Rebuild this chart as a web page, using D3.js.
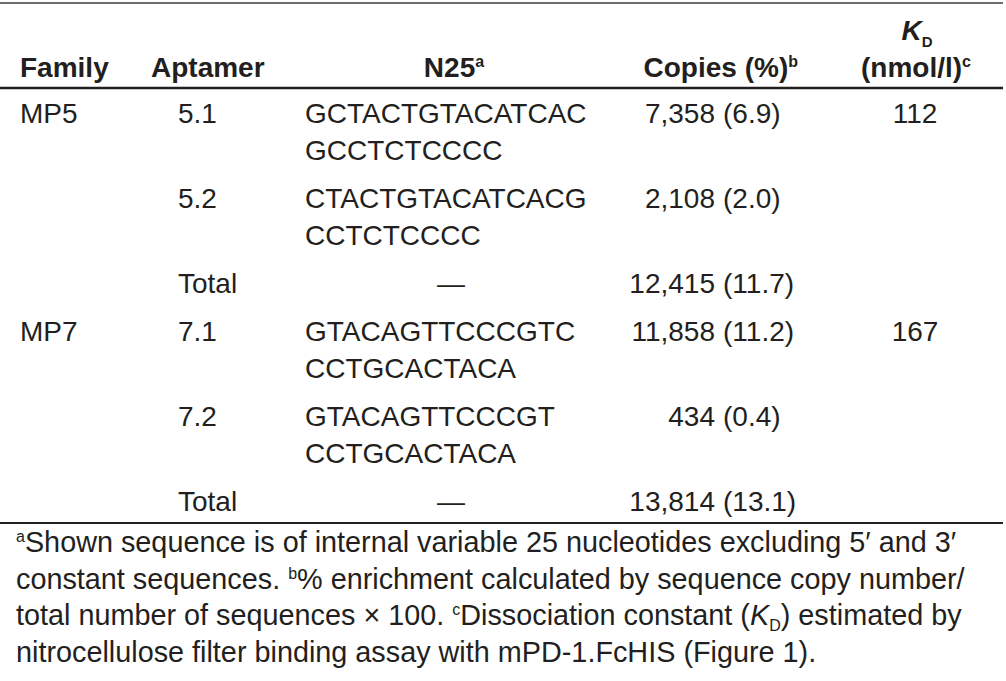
<!DOCTYPE html>
<html>
<head>
<meta charset="utf-8">
<script src="https://cdn.jsdelivr.net/npm/d3@7"></script>
<style>
  body { margin: 0; background: #fff; }
  svg { display: block; font-family: "Liberation Sans", Arial, sans-serif; }
</style>
</head>
<body>
<script>
// table contents
var families  = ["MP5", "", "", "MP7", "", ""];
var aptamers  = ["5.1", "5.2", "Total", "7.1", "7.2", "Total"];
var sequences = [["GCTACTGTACATCAC", "GCCTCTCCCC"],
                 ["CTACTGTACATCACG", "CCTCTCCCC"],
                 ["\u2014"],
                 ["GTACAGTTCCCGTC", "CCTGCACTACA"],
                 ["GTACAGTTCCCGT", "CCTGCACTACA"],
                 ["\u2014"]];
var copies    = [7358, 2108, 12415, 11858, 434, 13814];
var percents  = [6.9, 2.0, 11.7, 11.2, 0.4, 13.1];
var kds       = [112, null, null, 167, null, null];

var footnotes = [
  [["sup", "a"], ["t", "Shown sequence is of internal variable 25 nucleotides excluding 5\u2032 and 3\u2032"]],
  [["t", "constant sequences. "], ["sup", "b"], ["t", "% enrichment calculated by sequence copy number/"]],
  [["t", "total number of sequences \u00d7 100. "], ["sup", "c"], ["t", "Dissociation constant ("], ["it", "K"], ["sub", "D"], ["t", ") estimated by"]],
  [["t", "nitrocellulose filter binding assay with mPD-1.FcHIS (Figure 1)."]]
];

var width = 1006, height = 681;
var fs = 28, ink = "#231f20";
var fmtCount = d3.format(","), fmtPct = d3.format(".1f");

var svg = d3.select("body").append("svg")
    .attr("width", width)
    .attr("height", height);

svg.append("rect").attr("width", width).attr("height", height).attr("fill", "#fff");

// row baselines: each row takes its lines at 37px plus a 48px step to the next row
var lineH = 37, rowStep = 48;
var rowY = [];
var acc = 0;
sequences.forEach(function(s) {
  rowY.push(acc);
  acc += (s.length - 1) * lineH + rowStep;
});
var y = d3.scaleLinear().domain([0, 1]).range([123, 124]);

var col = {family: 20, aptamer: 178, seq: 305, dash: 451, num: 715, pct: 723, kd: 915};

// rules
svg.append("line").attr("x1", 0).attr("x2", 1003).attr("y1", 3).attr("y2", 3)
    .attr("stroke", "#6d6e71").attr("stroke-width", 2);
svg.append("line").attr("x1", 0).attr("x2", 1003).attr("y1", 88).attr("y2", 88)
    .attr("stroke", ink).attr("stroke-width", 2.6);
svg.append("line").attr("x1", 0).attr("x2", 1003).attr("y1", 523).attr("y2", 523)
    .attr("stroke", ink).attr("stroke-width", 2.2);

// header
var head = svg.append("g")
    .attr("font-weight", "bold")
    .attr("font-size", fs)
    .attr("fill", ink);

head.append("text").attr("x", 20).attr("y", 77).text("Family");
head.append("text").attr("x", 151).attr("y", 77).text("Aptamer");

var n25 = head.append("text").attr("x", 454).attr("y", 77).attr("text-anchor", "middle");
n25.append("tspan").text("N25");
n25.append("tspan").attr("font-size", 16).attr("dy", -10).text("a");

var cp = head.append("text").attr("x", 798).attr("y", 77).attr("text-anchor", "end");
cp.append("tspan").text("Copies (%)");
cp.append("tspan").attr("font-size", 16).attr("dy", -10).text("b");

var kdH = head.append("text").attr("x", 917).attr("y", 40).attr("text-anchor", "middle");
kdH.append("tspan").attr("font-style", "italic").text("K");
kdH.append("tspan").attr("font-size", 15).attr("dy", 7).text("D");

var nm = head.append("text").attr("x", 916).attr("y", 77).attr("text-anchor", "middle");
nm.append("tspan").text("(nmol/l)");
nm.append("tspan").attr("font-size", 16).attr("dy", -10).text("c");

// body rows
var rows = svg.append("g")
    .attr("font-size", fs)
    .attr("fill", ink)
  .selectAll("g")
    .data(d3.range(aptamers.length))
  .enter().append("g")
    .attr("transform", function(i) { return "translate(0," + y(rowY[i]) + ")"; });

rows.append("text").attr("x", col.family).text(function(i) { return families[i]; });
rows.append("text").attr("x", col.aptamer).text(function(i) { return aptamers[i]; });

rows.append("text")
    .attr("x", function(i) { return sequences[i].length > 1 ? col.seq : col.dash; })
    .attr("text-anchor", function(i) { return sequences[i].length > 1 ? "start" : "middle"; })
  .selectAll("tspan")
    .data(function(i) { return sequences[i]; })
  .enter().append("tspan")
    .attr("x", function() { return +d3.select(this.parentNode).attr("x"); })
    .attr("y", function(d, j) { return j * lineH; })
    .text(function(d) { return d; });

rows.append("text").attr("x", col.num).attr("text-anchor", "end")
    .text(function(i) { return fmtCount(copies[i]); });
rows.append("text").attr("x", col.pct)
    .text(function(i) { return "(" + fmtPct(percents[i]) + ")"; });
rows.append("text").attr("x", col.kd).attr("text-anchor", "middle")
    .text(function(i) { return kds[i] == null ? "" : kds[i]; });

// footnotes
var foot = svg.append("g")
    .attr("font-size", 28.8)
    .attr("fill", ink);

footnotes.forEach(function(parts, k) {
  var t = foot.append("text").attr("x", 16).attr("y", 552 + k * 36.7);
  var shift = 0;
  parts.forEach(function(p) {
    var s = t.append("tspan").text(p[1]);
    var want = p[0] === "sup" ? -10 : p[0] === "sub" ? 6 : 0;
    s.attr("dy", want - shift);
    shift = want;
    if (p[0] === "sup" || p[0] === "sub") s.attr("font-size", 16);
    if (p[0] === "it") s.attr("font-style", "italic");
  });
});
</script>
</body>
</html>
